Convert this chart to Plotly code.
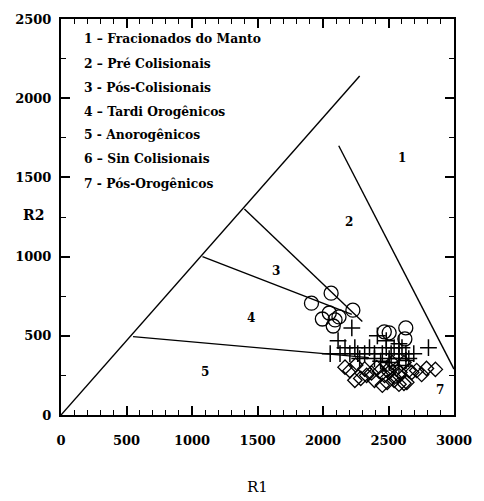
import plotly.graph_objects as go

# ---- boundary lines of the R1-R2 diagram (data units) ----
diag_x = [0, 2280]
diag_y = [0, 2140]
line1_x = [2120, 3000]
line1_y = [1700, 290]
line3_x = [1400, 2300]
line3_y = [1300, 590]
line4_x = [1080, 2220]
line4_y = [1000, 635]
line5_x = [550, 2350]
line5_y = [495, 362]

# ---- field labels ----
field_labels = ["1", "2", "3", "4", "5", "7"]
field_x = [2600, 2200, 1640, 1450, 1100, 2890]
field_y = [1625, 1220, 910, 610, 270, 160]

legend_lines = [
    "1 – Fracionados do Manto",
    "2 – Pré Colisionais",
    "3 - Pós-Colisionais",
    "4 – Tardi Orogênicos",
    "5 - Anorogênicos",
    "6 – Sin Colisionais",
    "7 - Pós-Orogênicos",
]

# ---- samples ----
circ_x = [1912, 2062, 2228, 1995, 2122, 2078, 2048, 2092, 2468, 2632, 2625, 2505]
circ_y = [706, 769, 662, 606, 619, 562, 644, 600, 525, 550, 480, 519]

plus_x = [2055, 2130, 2205, 2265, 2318, 2393, 2453, 2520, 2580, 2633, 2693,
          2168, 2243, 2355, 2483, 2543, 2603,
          2115, 2415, 2220, 2805, 2483, 2580,
          2280, 2393, 2505, 2580, 2655,
          2505, 2580, 2633, 2440]
plus_y = [387, 387, 387, 387, 387, 387, 387, 387, 387, 387, 387,
          425, 425, 425, 425, 425, 425,
          469, 500, 550, 425, 469, 450,
          356, 356, 356, 356, 356,
          331, 312, 344, 340]

diam_x = [2168, 2250, 2318, 2370, 2430, 2453, 2505, 2543, 2588, 2640, 2678, 2715,
          2790, 2858, 2393, 2490, 2580, 2333, 2243, 2288, 2528, 2618, 2753, 2410,
          2470, 2560, 2505, 2580, 2655, 2543, 2618, 2205]
diam_y = [302, 315, 290, 265, 275, 188, 294, 238, 269, 206, 269, 281,
          294, 288, 219, 206, 194, 250, 219, 231, 331, 331, 256, 300,
          250, 290, 269, 250, 281, 219, 200, 280]

fig = go.Figure()
for lx, ly in [(diag_x, diag_y), (line1_x, line1_y), (line3_x, line3_y),
               (line4_x, line4_y), (line5_x, line5_y)]:
    fig.add_trace(go.Scatter(x=lx, y=ly, mode="lines",
                             line=dict(color="black", width=1.4),
                             showlegend=False, hoverinfo="skip"))

fig.add_trace(go.Scatter(x=diam_x, y=diam_y, mode="markers", showlegend=False,
                         marker=dict(symbol="diamond-open", size=11, color="black",
                                     line=dict(width=1.3, color="black"))))
fig.add_trace(go.Scatter(x=plus_x, y=plus_y, mode="markers", showlegend=False,
                         marker=dict(symbol="cross-thin-open", size=12, color="black",
                                     line=dict(width=1.5, color="black"))))
fig.add_trace(go.Scatter(x=circ_x, y=circ_y, mode="markers", showlegend=False,
                         marker=dict(symbol="circle-open", size=14, color="black",
                                     line=dict(width=1.3, color="black"))))

SERIF = "DejaVu Serif"
ann = []
for t, x, y in zip(field_labels, field_x, field_y):
    ann.append(dict(x=x, y=y, xref="x", yref="y", text=t, showarrow=False,
                    font=dict(family=SERIF, size=12, color="black", weight="bold")))
leg_py = [35, 60, 84, 108, 132, 156, 181]
for t, py in zip(legend_lines, leg_py):
    ann.append(dict(x=(82 - 61) / 400, y=(415 - py) / 400, xref="paper", yref="paper",
                    text=t, showarrow=False, xanchor="left", yanchor="middle",
                    font=dict(family=SERIF, size=12.3, color="black",
                              weight="bold")))
ann.append(dict(x=-0.069, y=0.505, xref="paper", yref="paper", text="R2",
                xanchor="center", yanchor="middle",
                showarrow=False, font=dict(family=SERIF, size=14, color="black",
                                           weight="bold")))
ann.append(dict(x=0.5, y=-0.182, xref="paper", yref="paper", text="R1",
                xanchor="center", yanchor="middle",
                showarrow=False, font=dict(family=SERIF, size=15, color="black")))

axis_common = dict(showline=True, linecolor="black", linewidth=2, mirror="ticks",
                   ticks="inside", ticklen=9, tickwidth=1.5, tickcolor="black",
                   showgrid=False, zeroline=False,
                   tickfont=dict(family=SERIF, size=13, color="black",
                                 weight="bold"))
fig.update_layout(
    width=484, height=501,
    margin=dict(l=61, r=23, t=15, b=86),
    paper_bgcolor="white", plot_bgcolor="white",
    xaxis=dict(range=[0, 3000], tick0=0, dtick=500, ticklabelstandoff=12,
               minor=dict(dtick=100, ticks="inside", ticklen=5, tickcolor="black",
                          tickwidth=1.2),
               **axis_common),
    yaxis=dict(range=[0, 2500], tick0=0, dtick=500, ticklabelstandoff=5,
               minor=dict(dtick=250, ticks="inside", ticklen=5, tickcolor="black",
                          tickwidth=1.2),
               **axis_common),
    annotations=ann,
)
fig.write_html("out.html")
